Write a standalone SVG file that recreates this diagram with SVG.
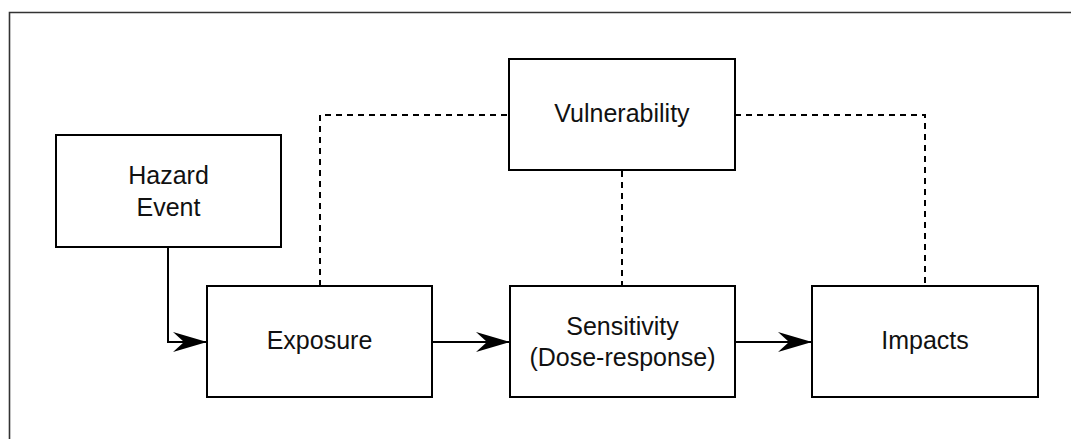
<svg xmlns="http://www.w3.org/2000/svg" width="1071" height="439" viewBox="0 0 1071 439">
<style>
.box{fill:#fff;stroke:#000;stroke-width:2}
.lbl{font-family:"Liberation Sans",Arial,sans-serif;font-size:25px;fill:#111;text-anchor:middle}
.solid{fill:none;stroke:#000;stroke-width:2}
.dash{fill:none;stroke:#000;stroke-width:2;stroke-dasharray:6 5}
</style>
<defs>
<marker id="arr" markerUnits="userSpaceOnUse" markerWidth="36" markerHeight="24" refX="34" refY="11" orient="auto">
<path d="M0,1 L34,11 L0,21 L11,11 Z" fill="#000"/>
</marker>
</defs>
<rect width="1071" height="439" fill="#fff"/>
<path d="M9.5,439 V12.5 H1071" fill="none" stroke="#333" stroke-width="1.6"/>
<g id="connectors">
<path class="solid" d="M168,247 V342 H207" marker-end="url(#arr)"/>
<path class="solid" d="M432,342 H510" marker-end="url(#arr)"/>
<path class="solid" d="M735,342 H812" marker-end="url(#arr)"/>
<path class="dash" d="M320,286 V115 H509"/>
<path class="dash" d="M735,115 H925 V286"/>
<path class="dash" d="M622,171 V286"/>
</g>
<g id="hazard">
<rect class="box" x="56" y="135" width="225" height="112"/>
<text class="lbl" x="168.5" y="184">Hazard</text>
<text class="lbl" x="168.5" y="216">Event</text>
</g>
<g id="vulnerability">
<rect class="box" x="509" y="59" width="226" height="111"/>
<text class="lbl" x="622" y="122">Vulnerability</text>
</g>
<g id="exposure">
<rect class="box" x="207" y="286" width="225" height="111"/>
<text class="lbl" x="319.5" y="349">Exposure</text>
</g>
<g id="sensitivity">
<rect class="box" x="510" y="286" width="225" height="111"/>
<text class="lbl" x="622.5" y="335">Sensitivity</text>
<text class="lbl" x="622.5" y="366">(Dose-response)</text>
</g>
<g id="impacts">
<rect class="box" x="812" y="286" width="226" height="111"/>
<text class="lbl" x="925" y="349">Impacts</text>
</g>
</svg>
